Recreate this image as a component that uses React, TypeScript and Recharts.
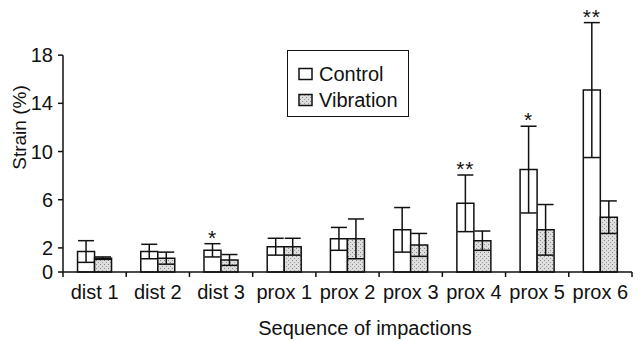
import React from 'react';
import { BarChart, Bar, XAxis, YAxis, ErrorBar, LabelList, Legend, ReferenceLine } from 'recharts';

// values (strain %, mean and error)
const categories = ['dist 1', 'dist 2', 'dist 3', 'prox 1', 'prox 2', 'prox 3', 'prox 4', 'prox 5', 'prox 6'];
const control = [1.7, 1.7, 1.8, 2.1, 2.75, 3.5, 5.7, 8.5, 15.1];
const controlErr = [0.9, 0.6, 0.55, 0.7, 0.95, 1.85, 2.35, 3.6, 5.6];
const vibration = [1.15, 1.15, 1.0, 2.1, 2.75, 2.25, 2.6, 3.5, 4.55];
const vibrationErr = [0.1, 0.5, 0.45, 0.7, 1.65, 0.95, 0.8, 2.1, 1.35];
const significance = ['', '', '*', '', '', '', '**', '*', '**'];
const yTicks = [0, 2, 6, 10, 14, 18];

const data = categories.map((name, i) => ({
  name,
  control: control[i],
  controlErr: controlErr[i],
  vibration: vibration[i],
  vibrationErr: vibrationErr[i],
  sig: significance[i],
}));

const font = '"Liberation Sans", Arial, sans-serif';
const ink = '#111';

const XTick = (props: any) => {
  const { x, y, payload, index } = props;
  const half = payload.offset || 0;
  return (
    <g>
      <line x1={x - half} x2={x - half} y1={y} y2={y + 5} stroke={ink} strokeWidth={1.5} />
      {index === categories.length - 1 && (
        <line x1={x + half} x2={x + half} y1={y} y2={y + 5} stroke={ink} strokeWidth={1.5} />
      )}
      <text x={x} y={y + 27} textAnchor="middle" fontSize={20} fontFamily={font} fill={ink}>
        {payload.value}
      </text>
    </g>
  );
};

// asterisks sit just above the control error bar
const SigLabel = (props: any) => {
  const { viewBox, value, index } = props;
  if (!value || !viewBox) return null;
  const h = Math.abs(viewBox.height);
  const errPx = (controlErr[index] * h) / control[index];
  return (
    <text
      x={viewBox.x + viewBox.width / 2}
      y={viewBox.y - errPx + 1}
      textAnchor="middle"
      fontSize={21}
      fontFamily={font}
      fill={ink}
      letterSpacing={1}
    >
      {value}
    </text>
  );
};

const LegendBox = () => (
  <div
    style={{
      border: `1.5px solid ${ink}`,
      padding: '10px 0 0 10px',
      boxSizing: 'border-box',
      width: '100%',
      height: '100%',
      fontFamily: font,
      fontSize: 20,
      color: ink,
      background: '#fff',
    }}
  >
    {[
      { label: 'Control', fill: '#fff' },
      { label: 'Vibration', fill: 'url(#stipple)' },
    ].map((it) => (
      <div key={it.label} style={{ display: 'flex', alignItems: 'center', height: 26 }}>
        <svg width={16} height={14} style={{ marginRight: 5 }}>
          <rect x={1} y={1.5} width={13} height={11} fill={it.fill} stroke={ink} strokeWidth={1.5} />
        </svg>
        <span>{it.label}</span>
      </div>
    ))}
  </div>
);

export default function App() {
  return (
    <div style={{ position: 'absolute', left: 0, top: 0, background: '#fff' }}>
      <BarChart
        width={644}
        height={342}
        data={data}
        margin={{ top: 19, right: 12, left: 0, bottom: 0 }}
        barCategoryGap="23%"
        barGap={0}
      >
        <defs>
          <pattern id="stipple" width="4" height="4" patternUnits="userSpaceOnUse">
            <rect width="4" height="4" fill="#dedede" />
            <rect x="0" y="0" width="1" height="1" fill="#888" />
            <rect x="2" y="2" width="1" height="1" fill="#9c9c9c" />
          </pattern>
        </defs>
        <XAxis
          dataKey="name"
          height={70}
          interval={0}
          tickSize={0}
          tickMargin={0}
          tick={<XTick />}
          axisLine={{ stroke: ink, strokeWidth: 1.5 }}
          label={{
            content: () => (
              <text x={365} y={335} textAnchor="middle" fontSize={20} fontFamily={font} fill={ink}>
                Sequence of impactions
              </text>
            ),
          }}
        />
        <YAxis
          width={63}
          domain={[0, 21]}
          ticks={yTicks}
          interval={0}
          axisLine={false}
          tickSize={5}
          tickMargin={5}
          tickLine={{ stroke: ink, strokeWidth: 1.5 }}
          tick={{ fontSize: 20, fontFamily: font, fill: ink }}
          label={{
            content: (p: any) => {
              const vb = p.viewBox || { x: 0, y: 19, width: 63, height: 253 };
              const cx = vb.x + 26;
              const cy = vb.y + vb.height / 2 - 18;
              return (
                <text
                  x={cx}
                  y={cy}
                  transform={`rotate(-90, ${cx}, ${cy})`}
                  textAnchor="middle"
                  fontSize={19}
                  fontFamily={font}
                  fill={ink}
                >
                  Strain (%)
                </text>
              );
            },
          }}
        />
        <ReferenceLine
          segment={[
            { x: categories[0], y: 0 },
            { x: categories[0], y: yTicks[yTicks.length - 1] },
          ]}
          position="start"
          stroke={ink}
          strokeWidth={1.5}
        />
        <Legend
          layout="vertical"
          align="center"
          verticalAlign="middle"
          content={<LegendBox />}
          wrapperStyle={{ left: 287, top: 50, width: 122, height: 67 }}
        />
        <Bar dataKey="control" name="Control" fill="#fff" stroke={ink} strokeWidth={1.5} isAnimationActive={false}>
          <ErrorBar dataKey="controlErr" width={8} stroke={ink} strokeWidth={1.5} />
          <LabelList dataKey="sig" content={<SigLabel />} />
        </Bar>
        <Bar dataKey="vibration" name="Vibration" fill="url(#stipple)" stroke={ink} strokeWidth={1.5} isAnimationActive={false}>
          <ErrorBar dataKey="vibrationErr" width={8} stroke={ink} strokeWidth={1.5} />
        </Bar>
      </BarChart>
    </div>
  );
}
